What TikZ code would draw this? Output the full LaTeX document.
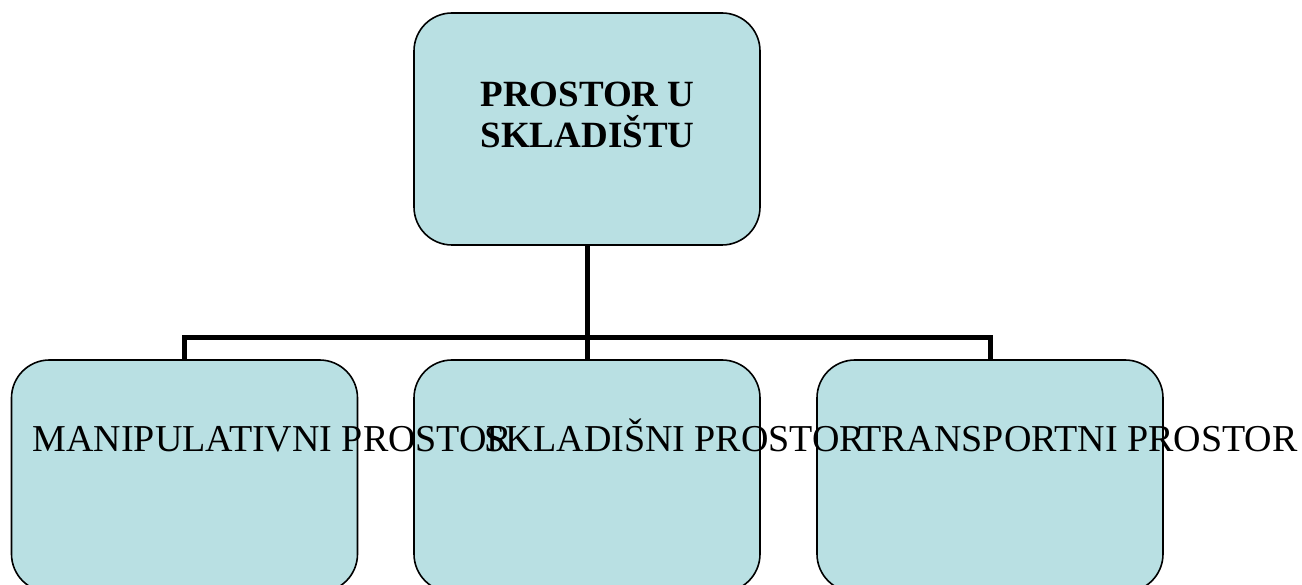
\documentclass[tikz,border=0pt]{standalone}
\usepackage{fontspec}
\setmainfont{Liberation Serif}
\usetikzlibrary{calc,positioning}

\definecolor{boxfill}{RGB}{185,224,227}

\begin{document}
\begin{tikzpicture}[
        x=1pt, y=-1pt,
        box/.style={draw, line width=1.6pt, fill=boxfill, rounded corners=38pt,
                    minimum width=346pt, minimum height=232pt, inner sep=0pt},
        lbl/.style={anchor=base, inner sep=0pt,
                    font=\fontsize{38}{40}\selectfont},
        conn/.style={line width=5pt}
    ]
    \clip (0,0) rectangle (1302,585);

%%
% Top of the chart
    \node (prostor) [box] at (587,129) {};
%%
% Three kinds of space below it
    \node (manip) [box] at (184.5,476) {};
    \node (sklad) [box] at (587,476) {};
    \node (trans) [box] at (990,476) {};

% connectors
    \coordinate (bus) at ($(prostor.south)+(0,92)$);
    \draw[conn] (prostor.south) -- (sklad.north);
    \draw[conn] (bus) -| (manip.north);
    \draw[conn] (bus) -| (trans.north);

% texts
    \node (prostortxt) [anchor=north, align=center, inner sep=0pt,
        font=\bfseries\fontsize{37}{41}\selectfont] at (587.5,82) {PROSTOR U\\SKLADIŠTU};
    \node (maniptxt) [lbl] at ($(manip.north)+(88,92)$) {MANIPULATIVNI PROSTOR};
    \node (skladtxt) [lbl] at ($(sklad.north)+(88,92)$) {SKLADIŠNI PROSTOR};
    \node (transtxt) [lbl] at ($(trans.north)+(88,92)$) {TRANSPORTNI PROSTOR};

\end{tikzpicture}
\end{document}
